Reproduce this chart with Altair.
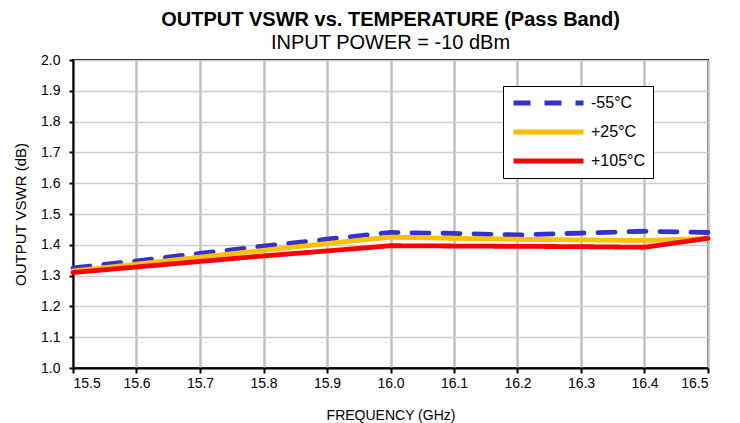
import altair as alt
import pandas as pd

freq = [15.5, 15.6, 15.7, 15.8, 15.9, 16.0, 16.1, 16.2, 16.3, 16.4, 16.5]
vswr_m55 = [1.325, 1.348, 1.372, 1.396, 1.418, 1.440, 1.437, 1.432, 1.438, 1.444, 1.440]
vswr_p25 = [1.315, 1.337, 1.360, 1.382, 1.404, 1.425, 1.421, 1.418, 1.416, 1.414, 1.421]
vswr_p105 = [1.310, 1.328, 1.346, 1.364, 1.380, 1.397, 1.396, 1.395, 1.394, 1.392, 1.421]
series = ["-55°C", "+25°C", "+105°C"]
colors = ["#3333CC", "#FFC000", "#FF0000"]

rows = []
for name, vals in zip(series, [vswr_m55, vswr_p25, vswr_p105]):
    for f, v in zip(freq, vals):
        rows.append({"freq": f, "vswr": v, "temp": name})
df = pd.DataFrame(rows)

FONT = "Liberation Sans"

chart = alt.Chart(df).mark_line(strokeWidth=4.8, strokeCap="round").encode(
    x=alt.X("freq:Q", title="FREQUENCY (GHz)",
            scale=alt.Scale(domain=[15.5, 16.5], nice=False, zero=False),
            axis=alt.Axis(values=freq, format=".1f", gridColor="#c0c0c0", gridWidth=2.5,
                          tickColor="black", tickSize=5, tickWidth=2, labelPadding=3,
                          titleFontSize=14, titlePadding=18)),
    y=alt.Y("vswr:Q", title="OUTPUT VSWR (dB)",
            scale=alt.Scale(domain=[1.0, 2.0], nice=False, zero=False),
            axis=alt.Axis(values=[1.0 + i * 0.1 for i in range(11)], format=".1f",
                          gridColor="#cccccc", gridWidth=1.5,
                          tickColor="black", tickSize=4, tickWidth=2, labelPadding=9,
                          titlePadding=12)),
    color=alt.Color("temp:N", scale=alt.Scale(domain=series, range=colors),
                    sort=series, title=None,
                    legend=alt.Legend(orient="none", legendX=430, legendY=26,
                                      symbolType="stroke", symbolSize=4900,
                                      symbolStrokeWidth=5, labelFontSize=16,
                                      labelFont=FONT, labelColor="black",
                                      fillColor="white", strokeColor="black",
                                      clipHeight=18,
                                      padding=8, rowPadding=11, labelOffset=5)),
    strokeDash=alt.StrokeDash("temp:N", scale=alt.Scale(domain=series, range=[[17, 14], [1, 0], [1, 0]]),
                              sort=series, title=None, legend=None),
).properties(
    width=635, height=308,
    background="white",
    title=alt.TitleParams(text="OUTPUT VSWR vs. TEMPERATURE (Pass Band)",
                          subtitle="INPUT POWER = -10 dBm",
                          font=FONT, fontSize=20, fontWeight="bold", color="black",
                          subtitleFont=FONT, subtitleFontSize=20, subtitleColor="black",
                          anchor="middle", offset=0, subtitlePadding=3),
    autosize=alt.AutoSizeParams(type="none"),
    padding={"left": 65, "top": 52, "right": 24, "bottom": 55},
).configure_view(
    stroke="black", strokeWidth=2
).configure_axis(
    labelFont=FONT, titleFont=FONT, labelFontSize=14, titleFontSize=15,
    labelColor="black", titleColor="black", titleFontWeight="normal",
    domainColor="black", domainWidth=2
)

chart.save("out.html", embed_options={"renderer": "svg", "actions": False})
